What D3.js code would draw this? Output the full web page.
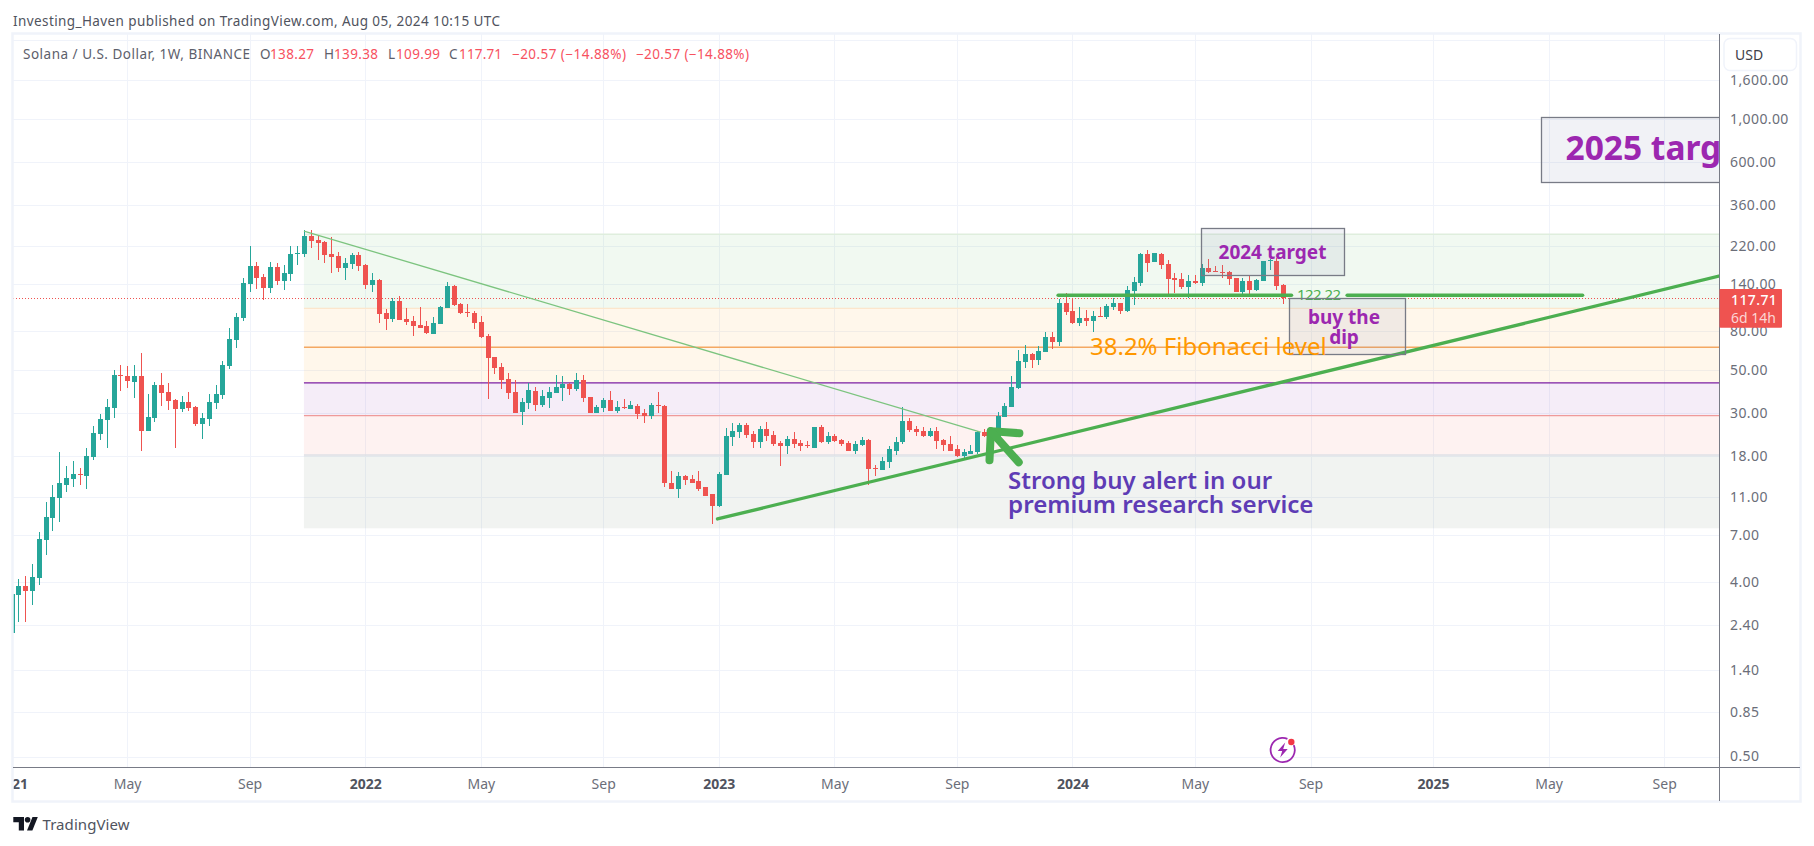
<!DOCTYPE html>
<html>
<head>
<meta charset="utf-8">
<title>Solana / U.S. Dollar, 1W</title>
<script src="https://cdn.jsdelivr.net/npm/d3@7"></script>
<style>
  html, body { margin: 0; padding: 0; background: #fff; }
  svg { display: block; }
  text { font-family: "Noto Sans", sans-serif; }
</style>
</head>
<body>
<svg width="1814" height="846"></svg>
<script>
// weekly candles, the first one starts on 2021-01-04
const startWeek = new Date(Date.UTC(2021, 0, 4));
const lastWeek = new Date(Date.UTC(2024, 7, 5));

const opens = [
  2.19,3.44,3.83,3.61,4.2,6.6,8.55,10.9,12.8,13.6,
  14.5,14.1,17.7,23.3,27.5,31.8,47.1,46.6,43.3,46.6,
  24.2,28.2,41.8,38.5,35,31.4,34.1,32.1,26.2,27.9,
  33.7,37.1,52.5,71.5,93.1,139.7,173.2,151.9,133.2,171.1,
  144.8,157.4,199.9,199.9,248,236.4,230.7,199.9,195.2,169.1,
  177.3,197.6,175.3,138,146.6,98.8,92,114.1,92,89.8,
  85.6,84.6,76.9,86.6,104.9,136.4,110,100,98.8,88.7,
  75.1,58.4,51.8,45,38.5,30.3,33.7,38.9,32.9,35.8,
  38,40.3,42.3,39.8,44.4,36.2,29.9,31.8,35,30.7,
  32.1,31.4,32.5,29.9,28.9,32.9,32.5,13.1,12.1,14.1,
  13.6,13.3,12.4,11.4,9.87,14.3,22.5,23.9,25.9,23.3,
  21.2,24.7,23,20.9,20.2,22,20.9,20.4,19.9,25.3,
  21.2,22.8,21.7,20.9,19.2,20.4,21.7,15.6,15.2,16.7,
  19.2,21.2,27.2,24.7,24.2,22.8,24.2,21.7,20.7,19.5,
  17.9,18.5,18.8,23.9,23,21.7,28.5,32.1,40.3,55,
  60.6,56.4,62,74.2,69.9,111.4,101.2,87.7,93.1,89.8,
  95.3,94.2,106.2,111.4,101.2,128.5,141.4,199.9,181.7,199.9,
  177.3,150.1,148.3,134.8,144.8,141.4,169.1,163.1,161.2,161.2,
  150.1,127,144.8,130,144.8,183.9,183.9,138.27
];
const highs = [
  3.48,4.17,4.31,4.98,7.27,10.4,12.8,18.8,15.9,16.9,
  15.6,19.7,25.6,29.6,35.4,50,53.1,52.5,53.1,61.3,
  37.5,43.3,48.3,42.8,35.4,36.7,38.5,32.5,29.9,37.5,
  41.8,55.7,82.6,98.8,150.1,220,181.7,157.4,181.7,179.5,
  175.3,220,220,266.3,266.3,248,233.6,245,204.8,190.6,
  202.3,204.8,177.3,159.3,148.3,103.6,118.2,121.1,104.9,95.3,
  106.2,89.8,94.2,107.4,143.1,138,111.4,110,101.2,95.3,
  76.9,58.4,54.4,48.3,44.4,35.8,42.8,40.8,39.4,40.8,
  47.1,46.6,42.8,48.3,47.1,36.2,32.9,35.8,38.9,34.5,
  35.4,34.5,33.3,31.4,33.7,38.5,32.9,15.1,14.9,14.3,
  14.3,15.1,12.5,11.4,14.9,25,26.6,26.6,26.6,24.2,
  25.6,26.9,24.2,21.4,22.8,23.9,21.7,21.4,25.3,25.9,
  23.9,23.3,22,21.4,21.4,22.5,22,16.1,17.7,20.2,
  22.5,32.1,28.2,25.6,25.3,25,25.3,22,22.8,20.4,
  19.5,20.4,24.2,24.7,24.7,30.3,33.7,46.6,63.5,67.4,
  61.3,66.6,78.7,78.7,116.8,125.5,116.8,106.2,102.4,101.2,
  106.2,110,118.2,111.4,136.4,151.9,202.3,209.7,202.3,202.3,
  186,159.3,159.3,155.5,155.5,177.3,188.3,173.2,175.3,163.1,
  150.1,150.1,153.7,148.3,183.9,188.3,190.6,139.38
];
const lows = [
  2.19,2.5,2.5,3.05,3.87,5.53,7.35,8.15,11.7,12.5,
  12.7,12.1,17.1,21.7,19.7,28.2,38.9,40.3,35.8,19,
  24.2,26.9,32.5,31,19.9,30.3,30.7,25.6,22,25.6,
  31.4,35.4,50.6,65,89.8,127,131.6,115.4,125.5,138,
  130,144.8,175.3,192.9,214.8,186,179.5,159.3,161.2,146.6,
  167,163.1,131.6,127,87.7,80.6,88.7,90.9,85.6,75.1,
  82.6,76.9,76.9,86.6,104.9,107.4,97.6,94.2,81.6,73.3,
  35.4,47.7,39.8,35.4,29.9,25.9,31.4,30.7,32.1,31.8,
  38,34.5,37.1,38.9,34.1,29.9,29.9,30.3,30.7,29.9,
  31.4,31.4,27.9,26.6,27.9,29.9,12.4,12.1,10.9,12.7,
  13.1,11.9,11.1,7.96,9.75,14.3,20.2,22.2,22.2,19.7,
  19.7,21.4,20.2,15.9,18.5,19.9,19.2,19.7,19.9,20.9,
  20.7,21.2,20.2,19.2,18.5,20.2,12.8,14.1,15.2,15.6,
  18.3,20.7,23.9,22.8,22.5,22.5,19.5,19.2,19,17.7,
  17.3,18.5,18.5,22.5,20.9,21.7,28.5,32.1,39.8,51.2,
  51.2,53.1,62,64.3,66.6,96.5,86.6,84.6,84.6,78.7,
  94.2,92,102.4,97.6,100,108.7,136.4,161.2,181.7,167,
  119.6,125.5,131.6,118.2,139.7,136.4,159.3,161.2,150.1,138,
  127,121.1,121.1,128.5,144.8,165.1,130,109.99
];
const closes = [
  3.48,3.83,3.61,4.25,6.7,8.65,11,13.1,13.8,14.5,
  14.3,17.9,23.6,27.9,32.1,47.1,46.6,43.9,46.6,24.2,
  28.5,41.8,38,34.5,31.4,34.1,31.8,26.2,28.2,34.1,
  37.5,53.1,72.4,94.2,141.4,173.2,150.1,133.2,171.1,144.8,
  159.3,199.9,202.3,248,233.6,228.1,197.6,192.9,169.1,179.5,
  197.6,173.2,138,146.6,97.6,92,114.1,90.9,88.7,84.6,
  82.6,77.8,87.7,106.2,136.4,108.7,98.8,98.8,87.7,74.2,
  57.7,51.2,44.4,38,29.9,34.1,39.4,32.9,36.7,38.5,
  40.8,42.3,39.8,44.4,35.8,29.9,32.1,35,30.7,32.1,
  31.8,32.9,29.6,28.9,32.9,32.5,13,12.1,14.1,13.5,
  13.1,12.2,11.2,9.87,14.5,22.8,24.2,25.9,23,21.2,
  24.7,22.8,20.7,20.2,22,20.7,20.2,20.2,25.3,21.2,
  22.8,21.4,20.7,19.2,20.7,21.7,15.4,15.4,16.9,19.5,
  21.2,27.2,24.4,23.9,22.8,24.2,21.4,20.4,19.2,17.9,
  18.8,19.2,23.9,22.8,21.7,28.9,32.5,40.8,55.7,60.6,
  56.4,62.8,74.2,69.9,111.4,100,87.7,93.1,89.8,95.3,
  94.2,107.4,111.4,101.2,130,143.1,199.9,179.5,202.3,175.3,
  148.3,146.6,134.8,144.8,141.4,169.1,161.2,161.2,159.3,148.3,
  127,144.8,130,146.6,183.9,186,136.4,117.71
];

const priceTicks = [1600, 1000, 600, 360, 220, 140, 80, 50, 30, 18, 11, 7, 4, 2.4, 1.4, 0.85, 0.5];
const gridOnlyPrices = [2550];
const timeTicks = ["2021-01-04", "2021-05-03", "2021-09-06", "2022-01-03", "2022-05-02", "2022-09-05",
  "2023-01-02", "2023-05-01", "2023-09-04", "2024-01-01", "2024-05-06", "2024-09-02",
  "2025-01-06", "2025-05-05", "2025-09-01"];

// fibonacci zones, top to bottom
const fibPrices = [253, 104.5, 65.8, 43, 29.1, 18.2, 7.6];
const fibFills = ["rgba(76,175,80,0.08)", "rgba(255,152,0,0.08)", "rgba(255,152,0,0.08)",
  "rgba(123,31,162,0.08)", "rgba(239,83,80,0.08)", "rgba(96,125,100,0.09)"];
const fibLines = ["#dfeedd", "#fce6cc", "#f4a862", "#7b1fa2", "#ef9a9a", "#dfe1e6", "none"];
const fibStartWeek = 43;

const downTrend = [[43, 263], [142.5, 23.9]];
const upTrend = [[103.8, 8.49], [251.2, 154]];
const supportPrice = 122.22;
const supportParts = [[153.9, 188.2], [196.4, 231]];
const arrowParts = [
  [[148.2, 23.6], [144, 24.2], [143.8, 17.1]],
  [[144, 24.2], [148.1, 16.7]]
];

const lastPrice = 117.71;
const legendParts = [
  {text: "Solana / U.S. Dollar, 1W, BINANCE", x: 23, w: 227, c: "#5d606b"},
  {text: "O", x: 260, w: 9, c: "#5d606b"},
  {text: "138.27", x: 270, w: 44, c: "#f7525f"},
  {text: "H", x: 324, w: 9, c: "#5d606b"},
  {text: "139.38", x: 334, w: 44, c: "#f7525f"},
  {text: "L", x: 388, w: 7, c: "#5d606b"},
  {text: "109.99", x: 396, w: 44, c: "#f7525f"},
  {text: "C", x: 449, w: 9, c: "#5d606b"},
  {text: "117.71", x: 459, w: 43, c: "#f7525f"},
  {text: "−20.57 (−14.88%)", x: 512, w: 114, c: "#f7525f"},
  {text: "−20.57 (−14.88%)", x: 636, w: 113, c: "#f7525f"}
];

const svg = d3.select("svg");
const plotLeft = 13, plotRight = 1719.5, plotTop = 34, plotBottom = 767;

const x = d3.scaleUtc().domain([startWeek, lastWeek]).range([11.5, 1283.3]);
const y = d3.scaleLog().domain([1000, 0.5]).range([119, 756.5]);
const xWeek = w => x(new Date(+startWeek + w * 7 * 864e5));
const parseDay = d3.utcParse("%Y-%m-%d");
const tickDates = timeTicks.map(parseDay);
const line = d3.line().x(d => xWeek(d[0])).y(d => y(d[1]));

svg.append("defs").append("clipPath").attr("id", "plot")
  .append("rect").attr("x", plotLeft).attr("y", plotTop)
  .attr("width", plotRight - plotLeft).attr("height", plotBottom - plotTop);
svg.select("defs").append("clipPath").attr("id", "timeLabels")
  .append("rect").attr("x", plotLeft).attr("y", plotBottom)
  .attr("width", plotRight - plotLeft).attr("height", 34);

const plot = svg.append("g").attr("clip-path", "url(#plot)");

// grid
plot.selectAll(".gridH").data(gridOnlyPrices.concat(priceTicks)).join("line")
  .attr("x1", plotLeft).attr("x2", plotRight)
  .attr("y1", d => Math.round(y(d)) + 0.5).attr("y2", d => Math.round(y(d)) + 0.5)
  .attr("stroke", "#f0f3fa");
plot.selectAll(".gridV").data(tickDates).join("line")
  .attr("y1", plotTop).attr("y2", plotBottom)
  .attr("x1", d => Math.round(x(d)) + 0.5).attr("x2", d => Math.round(x(d)) + 0.5)
  .attr("stroke", "#f0f3fa");

// fibonacci zones
const fibX = xWeek(fibStartWeek);
plot.selectAll(".fibZone").data(fibFills).join("rect")
  .attr("x", fibX).attr("width", plotRight - fibX)
  .attr("y", (d, i) => y(fibPrices[i]))
  .attr("height", (d, i) => y(fibPrices[i + 1]) - y(fibPrices[i]))
  .attr("fill", d => d);
plot.selectAll(".fibLine").data(fibPrices).join("line")
  .attr("x1", fibX).attr("x2", plotRight)
  .attr("y1", d => y(d)).attr("y2", d => y(d))
  .attr("stroke", (d, i) => fibLines[i]).attr("stroke-width", 1.3);

// last price line
plot.append("line").attr("x1", plotLeft).attr("x2", plotRight)
  .attr("y1", Math.round(y(lastPrice)) + 0.5).attr("y2", Math.round(y(lastPrice)) + 0.5)
  .attr("stroke", "#ef5350").attr("stroke-dasharray", "1 2");

// candles
const candles = plot.selectAll(".candle").data(opens).join("g")
  .attr("fill", (d, i) => closes[i] >= d ? "#26a69a" : "#ef5350")
  .attr("transform", (d, i) => `translate(${Math.round(xWeek(i))},0)`);
candles.append("rect").attr("x", 0).attr("width", 1)
  .attr("y", (d, i) => Math.round(y(highs[i])))
  .attr("height", (d, i) => Math.max(1, Math.round(y(lows[i])) - Math.round(y(highs[i]))));
candles.append("rect").attr("x", -2).attr("width", 5)
  .attr("y", (d, i) => Math.round(y(Math.max(d, closes[i]))))
  .attr("height", (d, i) => Math.max(1, Math.round(y(Math.min(d, closes[i]))) - Math.round(y(Math.max(d, closes[i])))));

// trend lines
plot.append("path").attr("d", line(downTrend)).attr("fill", "none")
  .attr("stroke", "#7cc47f").attr("stroke-width", 1.3);
plot.append("path").attr("d", line(upTrend)).attr("fill", "none")
  .attr("stroke", "#4caf50").attr("stroke-width", 3.3).attr("stroke-linecap", "round");

plot.selectAll(".support").data(supportParts).join("line")
  .attr("x1", d => xWeek(d[0])).attr("x2", d => xWeek(d[1]))
  .attr("y1", y(supportPrice)).attr("y2", y(supportPrice))
  .attr("stroke", "#4caf50").attr("stroke-width", 3.6).attr("stroke-linecap", "round");
plot.append("text").attr("x", 1297).attr("y", y(supportPrice) - 1).attr("dy", "0.36em")
  .attr("font-size", 15).attr("fill", "#4caf50").attr("textLength", 44).text("122.22");

// arrow
plot.selectAll(".arrow").data(arrowParts).join("path")
  .attr("d", line).attr("fill", "none")
  .attr("stroke", "#4caf50").attr("stroke-width", 8)
  .attr("stroke-linecap", "round").attr("stroke-linejoin", "round");

// boxes
function noteBox(x0, x1, y0, y1) {
  plot.append("rect").attr("x", x0).attr("y", y0).attr("width", x1 - x0).attr("height", y1 - y0)
    .attr("fill", "rgba(120,125,165,0.1)").attr("stroke", "#787b86").attr("stroke-width", 1.3);
}
noteBox(1201.5, 1344.5, 228.5, 275.5);
noteBox(1289.5, 1405.5, 298.5, 354.5);
noteBox(1541.5, 1760, 117.5, 182.5);

function note(txt, tx, ty, size, color, weight, anchor) {
  plot.append("text").attr("x", tx).attr("y", ty).attr("dy", "0.36em")
    .attr("font-size", size).attr("font-weight", weight).attr("fill", color)
    .attr("text-anchor", anchor || "start").text(txt);
}
note("38.2% Fibonacci level", 1090, 346.5, 24, "#ff9800", 400);
note("2024 target", 1272.5, 252.5, 19, "#9c27b0", 700, "middle");
note("buy the", 1344, 317, 19, "#9c27b0", 700, "middle");
note("dip", 1344, 337, 19, "#9c27b0", 700, "middle");
note("2025 target", 1565.5, 148, 33.5, "#9c27b0", 700);
note("Strong buy alert in our", 1008, 480, 24, "#5e3cb5", 600);
note("premium research service", 1008, 504, 24.2, "#5e3cb5", 600);

// event icon
const icon = plot.append("g").attr("transform", "translate(1282.7,750)");
icon.append("path").attr("fill", "#9c27b0")
  .attr("d", d3.arc().innerRadius(11.2).outerRadius(13).startAngle(1.15).endAngle(Math.PI * 2 + 0.4)());
icon.append("path").attr("fill", "#9c27b0").attr("d", "M2.5,-7.5 L-5,1 L-0.5,1 L-2.5,7.5 L5,-1 L0.5,-1 Z");
icon.append("circle").attr("cx", 8.6).attr("cy", -8).attr("r", 3.2).attr("fill", "#f23645");

// axes and frame
const xAxis = d3.axisBottom(x).tickValues(tickDates).tickSize(0).tickPadding(12)
  .tickFormat(d => d.getUTCMonth() === 0 ? d3.utcFormat("%Y")(d) : d3.utcFormat("%b")(d));
const xAxisG = svg.append("g").attr("clip-path", "url(#timeLabels)")
  .append("g").attr("transform", `translate(0,${plotBottom})`).call(xAxis);
xAxisG.select(".domain").remove();
xAxisG.selectAll("text")
  .attr("font-family", "'Noto Sans', sans-serif").attr("font-size", 14)
  .attr("fill", d => d.getUTCMonth() === 0 ? "#50535e" : "#6b6e79")
  .attr("font-weight", d => d.getUTCMonth() === 0 ? 700 : 400);

const yAxis = d3.axisRight(y).tickValues(priceTicks).tickSize(0).tickPadding(10.5)
  .tickFormat(d3.format(",.2f"));
const yAxisG = svg.append("g").attr("transform", `translate(${plotRight},0)`).call(yAxis);
yAxisG.select(".domain").remove();
yAxisG.selectAll("text")
  .attr("font-family", "'Noto Sans', sans-serif").attr("font-size", 14).attr("fill", "#6b6e79")
  .attr("letter-spacing", "0.4px");

svg.append("rect").attr("x", 12.5).attr("y", 33.5).attr("width", 1788).attr("height", 768)
  .attr("fill", "none").attr("stroke", "#f0f3fa").attr("stroke-width", 2.5);
svg.append("line").attr("x1", plotRight).attr("x2", plotRight).attr("y1", plotTop).attr("y2", 801)
  .attr("stroke", "#787b86");
svg.append("line").attr("x1", plotLeft).attr("x2", 1800).attr("y1", plotBottom + 0.5).attr("y2", plotBottom + 0.5)
  .attr("stroke", "#787b86");

// price label and currency button
svg.append("rect").attr("x", plotRight).attr("y", 289).attr("width", 62.5).attr("height", 38.7)
  .attr("fill", "#ef5350").attr("rx", 1);
svg.append("text").attr("x", 1731).attr("y", 300).attr("dy", "0.36em")
  .attr("font-size", 14).attr("font-weight", 500).attr("fill", "#fff").attr("letter-spacing", "0.4px").text("117.71");
svg.append("text").attr("x", 1731).attr("y", 318).attr("dy", "0.36em")
  .attr("font-size", 14).attr("fill", "#fcd6d5").attr("textLength", 45).text("6d 14h");
svg.append("rect").attr("x", 1721).attr("y", 36).attr("width", 78).attr("height", 39).attr("fill", "#fff");
svg.append("rect").attr("x", 1724).attr("y", 38.5).attr("width", 72.5).attr("height", 32).attr("rx", 6)
  .attr("fill", "#fff").attr("stroke", "#f0f3fa").attr("stroke-width", 1.5);
svg.append("text").attr("x", 1735).attr("y", 54.5).attr("dy", "0.36em")
  .attr("font-size", 14).attr("fill", "#3d4049").text("USD");

// header and legend
svg.append("text").attr("x", 13).attr("y", 21.5).attr("dy", "0.36em")
  .attr("font-size", 13.5).attr("fill", "#50535e").attr("textLength", 487)
  .text("Investing_Haven published on TradingView.com, Aug 05, 2024 10:15 UTC");
svg.selectAll(".legend").data(legendParts).join("text")
  .attr("x", d => d.x).attr("y", 54).attr("dy", "0.36em")
  .attr("font-size", 13.5).attr("fill", d => d.c).attr("textLength", d => d.w)
  .text(d => d.text);

// logo
const logo = svg.append("g").attr("fill", "#131722");
logo.append("path").attr("d", "M13.3,817 H24 V830.6 H18.8 V822.3 H13.3 Z");
logo.append("circle").attr("cx", 27.6).attr("cy", 819.8).attr("r", 2.8);
logo.append("path").attr("d", "M32.5,817 H37.8 L32.4,830.6 H27 Z");
svg.append("text").attr("x", 42.5).attr("y", 825).attr("dy", "0.36em")
  .attr("font-size", 15).attr("fill", "#50535e").attr("textLength", 87).text("TradingView");
</script>
</body>
</html>
